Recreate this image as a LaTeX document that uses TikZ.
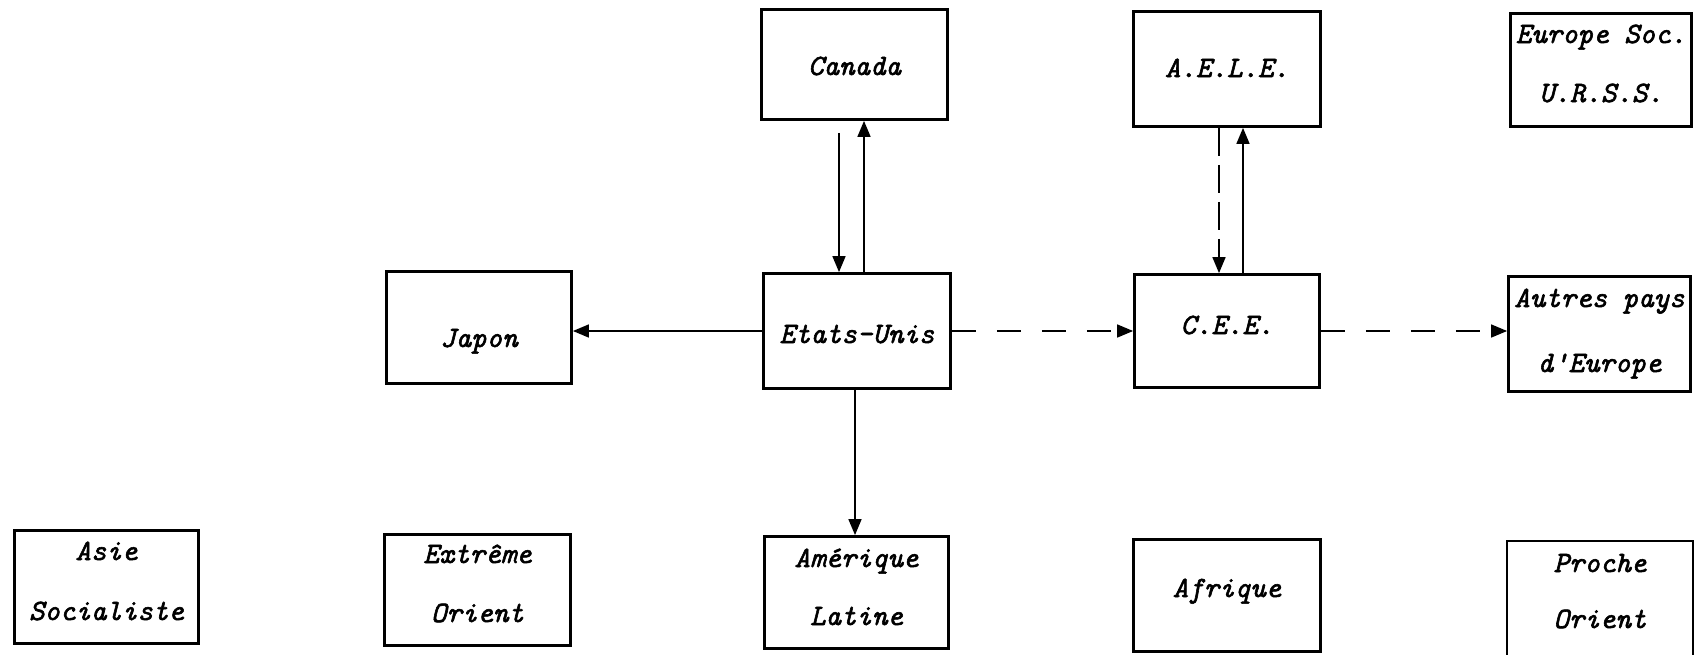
\documentclass[tikz,border=0pt]{standalone}
\usepackage{fontspec}
\newfontfamily\twf{Latin Modern Mono}[FakeBold=2]
\usetikzlibrary{arrows.meta}
\tikzset{
  box/.style={draw, line width=2.8pt, inner sep=0pt, align=center,
    font=\fontsize{29.5}{59}\selectfont\twf\itshape},
  one/.style={text height=#1, text depth=0pt},
  arr/.style={line width=1.6pt, -{Triangle[length=16pt,width=13pt]}},
  dsh/.style={dash pattern=on 24pt off 21pt},
  vdsh/.style={dash pattern=on 28pt off 9pt},
}
\begin{document}
\begin{tikzpicture}[x=1pt,y=-1pt]
\useasboundingbox (0,0) rectangle (1698,654);
% top row
\node[box, one=21pt, minimum width=186pt, minimum height=110pt] (can) at (854.5,64.5) {Canada};
\node[box, one=16pt, minimum width=187pt, minimum height=115pt] (aele) at (1227,69) {A.E.L.E.};
\node[box, one=64pt, minimum width=181pt, minimum height=113pt] (eus) at (1601,70) {Europe Soc.\\U.R.S.S.};
% middle row
\node[box, one=39pt, minimum width=185pt, minimum height=112pt] (jap) at (479,327.5) {Japon};
\node[box, one=24pt, minimum width=187pt, minimum height=115pt] (eu) at (857,331) {Etats-Unis};
\node[box, one=6pt, minimum width=185pt, minimum height=113pt] (cee) at (1227,331) {C.E.E.};
\node[box, one=76pt, minimum width=182pt, minimum height=115pt] (aut) at (1599.5,334) {Autres pays\\[6pt]d'Europe};
% bottom row
\node[box, one=66pt, minimum width=184pt, minimum height=113pt] (asie) at (106.5,587) {Asie\\[1pt]Socialiste};
\node[box, one=64pt, minimum width=186pt, minimum height=111pt] (ext) at (477.5,590) {Extrême\\Orient};
\node[box, one=65pt, minimum width=184pt, minimum height=112pt] (ame) at (856.5,592.5) {Amérique\\[-1pt]Latine};
\node[box, one=3pt, minimum width=187pt, minimum height=112pt] (afr) at (1227,595.5) {Afrique};
\node[box, one=58pt, minimum width=186pt, minimum height=116pt] (pro) at (1600,599) {Proche\\[-3pt]Orient};
% connectors
\draw[arr, shorten <=12pt] ([xshift=-15.5pt]can.south) -- ([xshift=-15.5pt]can.south |- eu.north);
\draw[arr] ([xshift=9.5pt]can.south |- eu.north) -- ([xshift=9.5pt]can.south);
\draw[arr, vdsh] ([xshift=-8pt]aele.south) -- ([xshift=-8pt]aele.south |- cee.north);
\draw[arr] ([xshift=16pt]aele.south |- cee.north) -- ([xshift=16pt]aele.south);
\draw[arr] (eu.west) -- (eu.west -| jap.east);
\draw[arr, dsh] (eu.east) -- (eu.east -| cee.west);
\draw[arr, dsh] (cee.east) -- (cee.east -| aut.west);
\draw[arr] ([xshift=-2pt]eu.south) -- ([xshift=-2pt]eu.south |- ame.north);
\end{tikzpicture}
\end{document}
